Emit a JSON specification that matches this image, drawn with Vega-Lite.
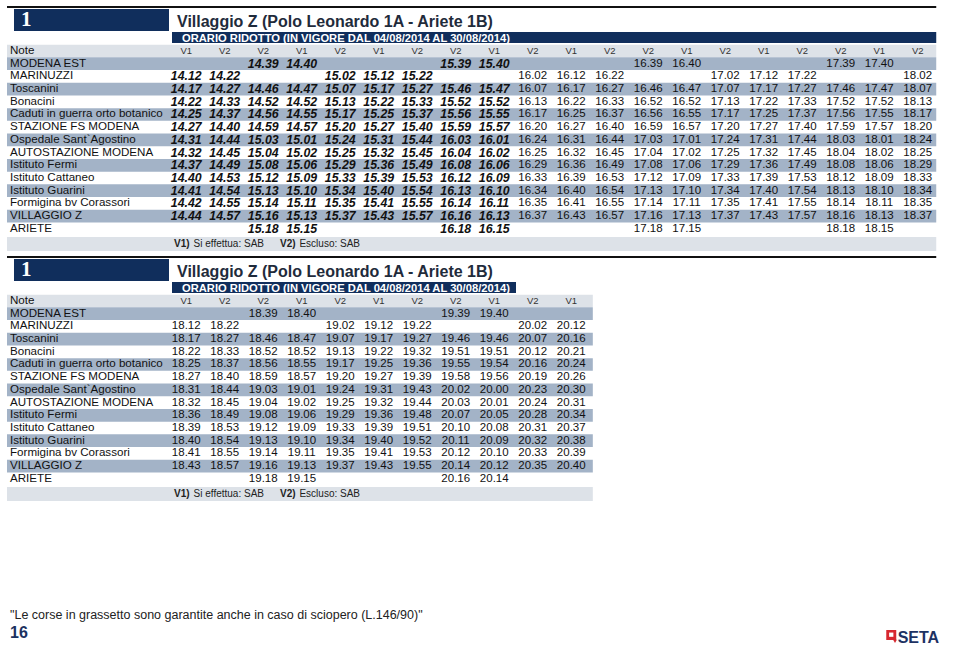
{
"$schema":"https://vega.github.io/schema/vega-lite/v6.json",
"padding":0,"spacing":0,"bounds":"flush","background":"white",
"config":{"view":{"stroke":null},"axis":{"disable":true},"text":{"font":"Liberation Sans"}},
"resolve":{"scale":{"x":"independent","y":"independent"}},
"datasets":{
"stops":[{"n":0,"s":"Note"},{"n":1,"s":"MODENA EST"},{"n":2,"s":"MARINUZZI"},{"n":3,"s":"Toscanini"},{"n":4,"s":"Bonacini"},{"n":5,"s":"Caduti in guerra orto botanico"},{"n":6,"s":"STAZIONE FS MODENA"},{"n":7,"s":"Ospedale Sant`Agostino"},{"n":8,"s":"AUTOSTAZIONE MODENA"},{"n":9,"s":"Istituto Fermi"},{"n":10,"s":"Istituto Cattaneo"},{"n":11,"s":"Istituto Guarini"},{"n":12,"s":"Formigina bv Corassori"},{"n":13,"s":"VILLAGGIO Z"},{"n":14,"s":"ARIETE"}],
"cells":[
{"t":"A","n":0,"c":1,"v":"V1"},{"t":"A","n":0,"c":2,"v":"V2"},{"t":"A","n":0,"c":3,"v":"V2"},{"t":"A","n":0,"c":4,"v":"V1"},{"t":"A","n":0,"c":5,"v":"V2"},{"t":"A","n":0,"c":6,"v":"V1"},{"t":"A","n":0,"c":7,"v":"V2"},{"t":"A","n":0,"c":8,"v":"V2"},{"t":"A","n":0,"c":9,"v":"V1"},{"t":"A","n":0,"c":10,"v":"V2"},{"t":"A","n":0,"c":11,"v":"V1"},{"t":"A","n":0,"c":12,"v":"V2"},{"t":"A","n":0,"c":13,"v":"V2"},{"t":"A","n":0,"c":14,"v":"V1"},{"t":"A","n":0,"c":15,"v":"V2"},{"t":"A","n":0,"c":16,"v":"V1"},{"t":"A","n":0,"c":17,"v":"V2"},{"t":"A","n":0,"c":18,"v":"V2"},{"t":"A","n":0,"c":19,"v":"V1"},{"t":"A","n":0,"c":20,"v":"V2"},
{"t":"A","n":1,"c":3,"v":"14.39"},{"t":"A","n":1,"c":4,"v":"14.40"},{"t":"A","n":1,"c":8,"v":"15.39"},{"t":"A","n":1,"c":9,"v":"15.40"},{"t":"A","n":1,"c":13,"v":"16.39"},{"t":"A","n":1,"c":14,"v":"16.40"},{"t":"A","n":1,"c":18,"v":"17.39"},{"t":"A","n":1,"c":19,"v":"17.40"},
{"t":"A","n":2,"c":1,"v":"14.12"},{"t":"A","n":2,"c":2,"v":"14.22"},{"t":"A","n":2,"c":5,"v":"15.02"},{"t":"A","n":2,"c":6,"v":"15.12"},{"t":"A","n":2,"c":7,"v":"15.22"},{"t":"A","n":2,"c":10,"v":"16.02"},{"t":"A","n":2,"c":11,"v":"16.12"},{"t":"A","n":2,"c":12,"v":"16.22"},{"t":"A","n":2,"c":15,"v":"17.02"},{"t":"A","n":2,"c":16,"v":"17.12"},{"t":"A","n":2,"c":17,"v":"17.22"},{"t":"A","n":2,"c":20,"v":"18.02"},
{"t":"A","n":3,"c":1,"v":"14.17"},{"t":"A","n":3,"c":2,"v":"14.27"},{"t":"A","n":3,"c":3,"v":"14.46"},{"t":"A","n":3,"c":4,"v":"14.47"},{"t":"A","n":3,"c":5,"v":"15.07"},{"t":"A","n":3,"c":6,"v":"15.17"},{"t":"A","n":3,"c":7,"v":"15.27"},{"t":"A","n":3,"c":8,"v":"15.46"},{"t":"A","n":3,"c":9,"v":"15.47"},{"t":"A","n":3,"c":10,"v":"16.07"},{"t":"A","n":3,"c":11,"v":"16.17"},{"t":"A","n":3,"c":12,"v":"16.27"},{"t":"A","n":3,"c":13,"v":"16.46"},{"t":"A","n":3,"c":14,"v":"16.47"},{"t":"A","n":3,"c":15,"v":"17.07"},{"t":"A","n":3,"c":16,"v":"17.17"},{"t":"A","n":3,"c":17,"v":"17.27"},{"t":"A","n":3,"c":18,"v":"17.46"},{"t":"A","n":3,"c":19,"v":"17.47"},{"t":"A","n":3,"c":20,"v":"18.07"},
{"t":"A","n":4,"c":1,"v":"14.22"},{"t":"A","n":4,"c":2,"v":"14.33"},{"t":"A","n":4,"c":3,"v":"14.52"},{"t":"A","n":4,"c":4,"v":"14.52"},{"t":"A","n":4,"c":5,"v":"15.13"},{"t":"A","n":4,"c":6,"v":"15.22"},{"t":"A","n":4,"c":7,"v":"15.33"},{"t":"A","n":4,"c":8,"v":"15.52"},{"t":"A","n":4,"c":9,"v":"15.52"},{"t":"A","n":4,"c":10,"v":"16.13"},{"t":"A","n":4,"c":11,"v":"16.22"},{"t":"A","n":4,"c":12,"v":"16.33"},{"t":"A","n":4,"c":13,"v":"16.52"},{"t":"A","n":4,"c":14,"v":"16.52"},{"t":"A","n":4,"c":15,"v":"17.13"},{"t":"A","n":4,"c":16,"v":"17.22"},{"t":"A","n":4,"c":17,"v":"17.33"},{"t":"A","n":4,"c":18,"v":"17.52"},{"t":"A","n":4,"c":19,"v":"17.52"},{"t":"A","n":4,"c":20,"v":"18.13"},
{"t":"A","n":5,"c":1,"v":"14.25"},{"t":"A","n":5,"c":2,"v":"14.37"},{"t":"A","n":5,"c":3,"v":"14.56"},{"t":"A","n":5,"c":4,"v":"14.55"},{"t":"A","n":5,"c":5,"v":"15.17"},{"t":"A","n":5,"c":6,"v":"15.25"},{"t":"A","n":5,"c":7,"v":"15.37"},{"t":"A","n":5,"c":8,"v":"15.56"},{"t":"A","n":5,"c":9,"v":"15.55"},{"t":"A","n":5,"c":10,"v":"16.17"},{"t":"A","n":5,"c":11,"v":"16.25"},{"t":"A","n":5,"c":12,"v":"16.37"},{"t":"A","n":5,"c":13,"v":"16.56"},{"t":"A","n":5,"c":14,"v":"16.55"},{"t":"A","n":5,"c":15,"v":"17.17"},{"t":"A","n":5,"c":16,"v":"17.25"},{"t":"A","n":5,"c":17,"v":"17.37"},{"t":"A","n":5,"c":18,"v":"17.56"},{"t":"A","n":5,"c":19,"v":"17.55"},{"t":"A","n":5,"c":20,"v":"18.17"},
{"t":"A","n":6,"c":1,"v":"14.27"},{"t":"A","n":6,"c":2,"v":"14.40"},{"t":"A","n":6,"c":3,"v":"14.59"},{"t":"A","n":6,"c":4,"v":"14.57"},{"t":"A","n":6,"c":5,"v":"15.20"},{"t":"A","n":6,"c":6,"v":"15.27"},{"t":"A","n":6,"c":7,"v":"15.40"},{"t":"A","n":6,"c":8,"v":"15.59"},{"t":"A","n":6,"c":9,"v":"15.57"},{"t":"A","n":6,"c":10,"v":"16.20"},{"t":"A","n":6,"c":11,"v":"16.27"},{"t":"A","n":6,"c":12,"v":"16.40"},{"t":"A","n":6,"c":13,"v":"16.59"},{"t":"A","n":6,"c":14,"v":"16.57"},{"t":"A","n":6,"c":15,"v":"17.20"},{"t":"A","n":6,"c":16,"v":"17.27"},{"t":"A","n":6,"c":17,"v":"17.40"},{"t":"A","n":6,"c":18,"v":"17.59"},{"t":"A","n":6,"c":19,"v":"17.57"},{"t":"A","n":6,"c":20,"v":"18.20"},
{"t":"A","n":7,"c":1,"v":"14.31"},{"t":"A","n":7,"c":2,"v":"14.44"},{"t":"A","n":7,"c":3,"v":"15.03"},{"t":"A","n":7,"c":4,"v":"15.01"},{"t":"A","n":7,"c":5,"v":"15.24"},{"t":"A","n":7,"c":6,"v":"15.31"},{"t":"A","n":7,"c":7,"v":"15.44"},{"t":"A","n":7,"c":8,"v":"16.03"},{"t":"A","n":7,"c":9,"v":"16.01"},{"t":"A","n":7,"c":10,"v":"16.24"},{"t":"A","n":7,"c":11,"v":"16.31"},{"t":"A","n":7,"c":12,"v":"16.44"},{"t":"A","n":7,"c":13,"v":"17.03"},{"t":"A","n":7,"c":14,"v":"17.01"},{"t":"A","n":7,"c":15,"v":"17.24"},{"t":"A","n":7,"c":16,"v":"17.31"},{"t":"A","n":7,"c":17,"v":"17.44"},{"t":"A","n":7,"c":18,"v":"18.03"},{"t":"A","n":7,"c":19,"v":"18.01"},{"t":"A","n":7,"c":20,"v":"18.24"},
{"t":"A","n":8,"c":1,"v":"14.32"},{"t":"A","n":8,"c":2,"v":"14.45"},{"t":"A","n":8,"c":3,"v":"15.04"},{"t":"A","n":8,"c":4,"v":"15.02"},{"t":"A","n":8,"c":5,"v":"15.25"},{"t":"A","n":8,"c":6,"v":"15.32"},{"t":"A","n":8,"c":7,"v":"15.45"},{"t":"A","n":8,"c":8,"v":"16.04"},{"t":"A","n":8,"c":9,"v":"16.02"},{"t":"A","n":8,"c":10,"v":"16.25"},{"t":"A","n":8,"c":11,"v":"16.32"},{"t":"A","n":8,"c":12,"v":"16.45"},{"t":"A","n":8,"c":13,"v":"17.04"},{"t":"A","n":8,"c":14,"v":"17.02"},{"t":"A","n":8,"c":15,"v":"17.25"},{"t":"A","n":8,"c":16,"v":"17.32"},{"t":"A","n":8,"c":17,"v":"17.45"},{"t":"A","n":8,"c":18,"v":"18.04"},{"t":"A","n":8,"c":19,"v":"18.02"},{"t":"A","n":8,"c":20,"v":"18.25"},
{"t":"A","n":9,"c":1,"v":"14.37"},{"t":"A","n":9,"c":2,"v":"14.49"},{"t":"A","n":9,"c":3,"v":"15.08"},{"t":"A","n":9,"c":4,"v":"15.06"},{"t":"A","n":9,"c":5,"v":"15.29"},{"t":"A","n":9,"c":6,"v":"15.36"},{"t":"A","n":9,"c":7,"v":"15.49"},{"t":"A","n":9,"c":8,"v":"16.08"},{"t":"A","n":9,"c":9,"v":"16.06"},{"t":"A","n":9,"c":10,"v":"16.29"},{"t":"A","n":9,"c":11,"v":"16.36"},{"t":"A","n":9,"c":12,"v":"16.49"},{"t":"A","n":9,"c":13,"v":"17.08"},{"t":"A","n":9,"c":14,"v":"17.06"},{"t":"A","n":9,"c":15,"v":"17.29"},{"t":"A","n":9,"c":16,"v":"17.36"},{"t":"A","n":9,"c":17,"v":"17.49"},{"t":"A","n":9,"c":18,"v":"18.08"},{"t":"A","n":9,"c":19,"v":"18.06"},{"t":"A","n":9,"c":20,"v":"18.29"},
{"t":"A","n":10,"c":1,"v":"14.40"},{"t":"A","n":10,"c":2,"v":"14.53"},{"t":"A","n":10,"c":3,"v":"15.12"},{"t":"A","n":10,"c":4,"v":"15.09"},{"t":"A","n":10,"c":5,"v":"15.33"},{"t":"A","n":10,"c":6,"v":"15.39"},{"t":"A","n":10,"c":7,"v":"15.53"},{"t":"A","n":10,"c":8,"v":"16.12"},{"t":"A","n":10,"c":9,"v":"16.09"},{"t":"A","n":10,"c":10,"v":"16.33"},{"t":"A","n":10,"c":11,"v":"16.39"},{"t":"A","n":10,"c":12,"v":"16.53"},{"t":"A","n":10,"c":13,"v":"17.12"},{"t":"A","n":10,"c":14,"v":"17.09"},{"t":"A","n":10,"c":15,"v":"17.33"},{"t":"A","n":10,"c":16,"v":"17.39"},{"t":"A","n":10,"c":17,"v":"17.53"},{"t":"A","n":10,"c":18,"v":"18.12"},{"t":"A","n":10,"c":19,"v":"18.09"},{"t":"A","n":10,"c":20,"v":"18.33"},
{"t":"A","n":11,"c":1,"v":"14.41"},{"t":"A","n":11,"c":2,"v":"14.54"},{"t":"A","n":11,"c":3,"v":"15.13"},{"t":"A","n":11,"c":4,"v":"15.10"},{"t":"A","n":11,"c":5,"v":"15.34"},{"t":"A","n":11,"c":6,"v":"15.40"},{"t":"A","n":11,"c":7,"v":"15.54"},{"t":"A","n":11,"c":8,"v":"16.13"},{"t":"A","n":11,"c":9,"v":"16.10"},{"t":"A","n":11,"c":10,"v":"16.34"},{"t":"A","n":11,"c":11,"v":"16.40"},{"t":"A","n":11,"c":12,"v":"16.54"},{"t":"A","n":11,"c":13,"v":"17.13"},{"t":"A","n":11,"c":14,"v":"17.10"},{"t":"A","n":11,"c":15,"v":"17.34"},{"t":"A","n":11,"c":16,"v":"17.40"},{"t":"A","n":11,"c":17,"v":"17.54"},{"t":"A","n":11,"c":18,"v":"18.13"},{"t":"A","n":11,"c":19,"v":"18.10"},{"t":"A","n":11,"c":20,"v":"18.34"},
{"t":"A","n":12,"c":1,"v":"14.42"},{"t":"A","n":12,"c":2,"v":"14.55"},{"t":"A","n":12,"c":3,"v":"15.14"},{"t":"A","n":12,"c":4,"v":"15.11"},{"t":"A","n":12,"c":5,"v":"15.35"},{"t":"A","n":12,"c":6,"v":"15.41"},{"t":"A","n":12,"c":7,"v":"15.55"},{"t":"A","n":12,"c":8,"v":"16.14"},{"t":"A","n":12,"c":9,"v":"16.11"},{"t":"A","n":12,"c":10,"v":"16.35"},{"t":"A","n":12,"c":11,"v":"16.41"},{"t":"A","n":12,"c":12,"v":"16.55"},{"t":"A","n":12,"c":13,"v":"17.14"},{"t":"A","n":12,"c":14,"v":"17.11"},{"t":"A","n":12,"c":15,"v":"17.35"},{"t":"A","n":12,"c":16,"v":"17.41"},{"t":"A","n":12,"c":17,"v":"17.55"},{"t":"A","n":12,"c":18,"v":"18.14"},{"t":"A","n":12,"c":19,"v":"18.11"},{"t":"A","n":12,"c":20,"v":"18.35"},
{"t":"A","n":13,"c":1,"v":"14.44"},{"t":"A","n":13,"c":2,"v":"14.57"},{"t":"A","n":13,"c":3,"v":"15.16"},{"t":"A","n":13,"c":4,"v":"15.13"},{"t":"A","n":13,"c":5,"v":"15.37"},{"t":"A","n":13,"c":6,"v":"15.43"},{"t":"A","n":13,"c":7,"v":"15.57"},{"t":"A","n":13,"c":8,"v":"16.16"},{"t":"A","n":13,"c":9,"v":"16.13"},{"t":"A","n":13,"c":10,"v":"16.37"},{"t":"A","n":13,"c":11,"v":"16.43"},{"t":"A","n":13,"c":12,"v":"16.57"},{"t":"A","n":13,"c":13,"v":"17.16"},{"t":"A","n":13,"c":14,"v":"17.13"},{"t":"A","n":13,"c":15,"v":"17.37"},{"t":"A","n":13,"c":16,"v":"17.43"},{"t":"A","n":13,"c":17,"v":"17.57"},{"t":"A","n":13,"c":18,"v":"18.16"},{"t":"A","n":13,"c":19,"v":"18.13"},{"t":"A","n":13,"c":20,"v":"18.37"},
{"t":"A","n":14,"c":3,"v":"15.18"},{"t":"A","n":14,"c":4,"v":"15.15"},{"t":"A","n":14,"c":8,"v":"16.18"},{"t":"A","n":14,"c":9,"v":"16.15"},{"t":"A","n":14,"c":13,"v":"17.18"},{"t":"A","n":14,"c":14,"v":"17.15"},{"t":"A","n":14,"c":18,"v":"18.18"},{"t":"A","n":14,"c":19,"v":"18.15"},
{"t":"B","n":0,"c":1,"v":"V1"},{"t":"B","n":0,"c":2,"v":"V2"},{"t":"B","n":0,"c":3,"v":"V2"},{"t":"B","n":0,"c":4,"v":"V1"},{"t":"B","n":0,"c":5,"v":"V2"},{"t":"B","n":0,"c":6,"v":"V1"},{"t":"B","n":0,"c":7,"v":"V2"},{"t":"B","n":0,"c":8,"v":"V2"},{"t":"B","n":0,"c":9,"v":"V1"},{"t":"B","n":0,"c":10,"v":"V2"},{"t":"B","n":0,"c":11,"v":"V1"},
{"t":"B","n":1,"c":3,"v":"18.39"},{"t":"B","n":1,"c":4,"v":"18.40"},{"t":"B","n":1,"c":8,"v":"19.39"},{"t":"B","n":1,"c":9,"v":"19.40"},
{"t":"B","n":2,"c":1,"v":"18.12"},{"t":"B","n":2,"c":2,"v":"18.22"},{"t":"B","n":2,"c":5,"v":"19.02"},{"t":"B","n":2,"c":6,"v":"19.12"},{"t":"B","n":2,"c":7,"v":"19.22"},{"t":"B","n":2,"c":10,"v":"20.02"},{"t":"B","n":2,"c":11,"v":"20.12"},
{"t":"B","n":3,"c":1,"v":"18.17"},{"t":"B","n":3,"c":2,"v":"18.27"},{"t":"B","n":3,"c":3,"v":"18.46"},{"t":"B","n":3,"c":4,"v":"18.47"},{"t":"B","n":3,"c":5,"v":"19.07"},{"t":"B","n":3,"c":6,"v":"19.17"},{"t":"B","n":3,"c":7,"v":"19.27"},{"t":"B","n":3,"c":8,"v":"19.46"},{"t":"B","n":3,"c":9,"v":"19.46"},{"t":"B","n":3,"c":10,"v":"20.07"},{"t":"B","n":3,"c":11,"v":"20.16"},
{"t":"B","n":4,"c":1,"v":"18.22"},{"t":"B","n":4,"c":2,"v":"18.33"},{"t":"B","n":4,"c":3,"v":"18.52"},{"t":"B","n":4,"c":4,"v":"18.52"},{"t":"B","n":4,"c":5,"v":"19.13"},{"t":"B","n":4,"c":6,"v":"19.22"},{"t":"B","n":4,"c":7,"v":"19.32"},{"t":"B","n":4,"c":8,"v":"19.51"},{"t":"B","n":4,"c":9,"v":"19.51"},{"t":"B","n":4,"c":10,"v":"20.12"},{"t":"B","n":4,"c":11,"v":"20.21"},
{"t":"B","n":5,"c":1,"v":"18.25"},{"t":"B","n":5,"c":2,"v":"18.37"},{"t":"B","n":5,"c":3,"v":"18.56"},{"t":"B","n":5,"c":4,"v":"18.55"},{"t":"B","n":5,"c":5,"v":"19.17"},{"t":"B","n":5,"c":6,"v":"19.25"},{"t":"B","n":5,"c":7,"v":"19.36"},{"t":"B","n":5,"c":8,"v":"19.55"},{"t":"B","n":5,"c":9,"v":"19.54"},{"t":"B","n":5,"c":10,"v":"20.16"},{"t":"B","n":5,"c":11,"v":"20.24"},
{"t":"B","n":6,"c":1,"v":"18.27"},{"t":"B","n":6,"c":2,"v":"18.40"},{"t":"B","n":6,"c":3,"v":"18.59"},{"t":"B","n":6,"c":4,"v":"18.57"},{"t":"B","n":6,"c":5,"v":"19.20"},{"t":"B","n":6,"c":6,"v":"19.27"},{"t":"B","n":6,"c":7,"v":"19.39"},{"t":"B","n":6,"c":8,"v":"19.58"},{"t":"B","n":6,"c":9,"v":"19.56"},{"t":"B","n":6,"c":10,"v":"20.19"},{"t":"B","n":6,"c":11,"v":"20.26"},
{"t":"B","n":7,"c":1,"v":"18.31"},{"t":"B","n":7,"c":2,"v":"18.44"},{"t":"B","n":7,"c":3,"v":"19.03"},{"t":"B","n":7,"c":4,"v":"19.01"},{"t":"B","n":7,"c":5,"v":"19.24"},{"t":"B","n":7,"c":6,"v":"19.31"},{"t":"B","n":7,"c":7,"v":"19.43"},{"t":"B","n":7,"c":8,"v":"20.02"},{"t":"B","n":7,"c":9,"v":"20.00"},{"t":"B","n":7,"c":10,"v":"20.23"},{"t":"B","n":7,"c":11,"v":"20.30"},
{"t":"B","n":8,"c":1,"v":"18.32"},{"t":"B","n":8,"c":2,"v":"18.45"},{"t":"B","n":8,"c":3,"v":"19.04"},{"t":"B","n":8,"c":4,"v":"19.02"},{"t":"B","n":8,"c":5,"v":"19.25"},{"t":"B","n":8,"c":6,"v":"19.32"},{"t":"B","n":8,"c":7,"v":"19.44"},{"t":"B","n":8,"c":8,"v":"20.03"},{"t":"B","n":8,"c":9,"v":"20.01"},{"t":"B","n":8,"c":10,"v":"20.24"},{"t":"B","n":8,"c":11,"v":"20.31"},
{"t":"B","n":9,"c":1,"v":"18.36"},{"t":"B","n":9,"c":2,"v":"18.49"},{"t":"B","n":9,"c":3,"v":"19.08"},{"t":"B","n":9,"c":4,"v":"19.06"},{"t":"B","n":9,"c":5,"v":"19.29"},{"t":"B","n":9,"c":6,"v":"19.36"},{"t":"B","n":9,"c":7,"v":"19.48"},{"t":"B","n":9,"c":8,"v":"20.07"},{"t":"B","n":9,"c":9,"v":"20.05"},{"t":"B","n":9,"c":10,"v":"20.28"},{"t":"B","n":9,"c":11,"v":"20.34"},
{"t":"B","n":10,"c":1,"v":"18.39"},{"t":"B","n":10,"c":2,"v":"18.53"},{"t":"B","n":10,"c":3,"v":"19.12"},{"t":"B","n":10,"c":4,"v":"19.09"},{"t":"B","n":10,"c":5,"v":"19.33"},{"t":"B","n":10,"c":6,"v":"19.39"},{"t":"B","n":10,"c":7,"v":"19.51"},{"t":"B","n":10,"c":8,"v":"20.10"},{"t":"B","n":10,"c":9,"v":"20.08"},{"t":"B","n":10,"c":10,"v":"20.31"},{"t":"B","n":10,"c":11,"v":"20.37"},
{"t":"B","n":11,"c":1,"v":"18.40"},{"t":"B","n":11,"c":2,"v":"18.54"},{"t":"B","n":11,"c":3,"v":"19.13"},{"t":"B","n":11,"c":4,"v":"19.10"},{"t":"B","n":11,"c":5,"v":"19.34"},{"t":"B","n":11,"c":6,"v":"19.40"},{"t":"B","n":11,"c":7,"v":"19.52"},{"t":"B","n":11,"c":8,"v":"20.11"},{"t":"B","n":11,"c":9,"v":"20.09"},{"t":"B","n":11,"c":10,"v":"20.32"},{"t":"B","n":11,"c":11,"v":"20.38"},
{"t":"B","n":12,"c":1,"v":"18.41"},{"t":"B","n":12,"c":2,"v":"18.55"},{"t":"B","n":12,"c":3,"v":"19.14"},{"t":"B","n":12,"c":4,"v":"19.11"},{"t":"B","n":12,"c":5,"v":"19.35"},{"t":"B","n":12,"c":6,"v":"19.41"},{"t":"B","n":12,"c":7,"v":"19.53"},{"t":"B","n":12,"c":8,"v":"20.12"},{"t":"B","n":12,"c":9,"v":"20.10"},{"t":"B","n":12,"c":10,"v":"20.33"},{"t":"B","n":12,"c":11,"v":"20.39"},
{"t":"B","n":13,"c":1,"v":"18.43"},{"t":"B","n":13,"c":2,"v":"18.57"},{"t":"B","n":13,"c":3,"v":"19.16"},{"t":"B","n":13,"c":4,"v":"19.13"},{"t":"B","n":13,"c":5,"v":"19.37"},{"t":"B","n":13,"c":6,"v":"19.43"},{"t":"B","n":13,"c":7,"v":"19.55"},{"t":"B","n":13,"c":8,"v":"20.14"},{"t":"B","n":13,"c":9,"v":"20.12"},{"t":"B","n":13,"c":10,"v":"20.35"},{"t":"B","n":13,"c":11,"v":"20.40"},
{"t":"B","n":14,"c":3,"v":"19.18"},{"t":"B","n":14,"c":4,"v":"19.15"},{"t":"B","n":14,"c":8,"v":"20.16"},{"t":"B","n":14,"c":9,"v":"20.14"}
]},
"vconcat":[
{"width":960,"height":250,
"layer":[
{"data":{"values":[{}]},"mark":{"type":"rule","color":"#111111","strokeWidth":2},"encoding":{"x":{"datum":-3.6558,"scale":{"domain":[-3.6558,21.2792],"nice":false,"zero":false}},"x2":{"datum":20.48},"y":{"datum":-3.47,"scale":{"domain":[-4.0157,15.6693],"reverse":true,"nice":false,"zero":false}}}},
{"data":{"values":[{}]},"mark":{"type":"rule","color":"#dde2e8","strokeWidth":12.7},"encoding":{"x":{"datum":-3.6558},"x2":{"datum":20.48},"y":{"datum":0}}},
{"data":{"name":"stops"},"transform":[{"filter":"datum.n % 2 == 1"}],"mark":{"type":"rule","color":"#a3b3c7","strokeWidth":12.7},"encoding":{"x":{"datum":-3.6558},"x2":{"datum":20.48},"y":{"field":"n","type":"quantitative"}}},
{"data":{"values":[{}]},"mark":{"type":"rule","color":"#dde2e8","strokeWidth":14},"encoding":{"x":{"datum":-3.6558},"x2":{"datum":20.48},"y":{"datum":15.197}}},
{"data":{"values":[{}]},"mark":{"type":"rule","color":"#102e5c","strokeWidth":22},"encoding":{"x":{"datum":-3.474},"x2":{"datum":0.552},"y":{"datum":-2.441}}},
{"data":{"values":[{}]},"mark":{"type":"rule","color":"#102e5c","strokeWidth":11},"encoding":{"x":{"datum":0.63},"x2":{"datum":20.48},"y":{"datum":-1.063}}},
{"data":{"values":[{}]},"mark":{"type":"text","text":"1","font":"Liberation Serif","fontWeight":"bold","fontSize":21,"color":"white","align":"left","baseline":"alphabetic"},"encoding":{"x":{"datum":-3.292},"y":{"datum":-1.969}}},
{"data":{"values":[{}]},"mark":{"type":"text","text":"Villaggio Z (Polo Leonardo 1A - Ariete 1B)","fontWeight":"bold","fontSize":16,"color":"#1f2b3b","align":"left","baseline":"alphabetic"},"encoding":{"x":{"datum":0.7597},"y":{"datum":-1.929}}},
{"data":{"values":[{}]},"mark":{"type":"text","text":"ORARIO RIDOTTO (IN VIGORE DAL 04/08/2014 AL 30/08/2014)","fontWeight":"bold","fontSize":11.2,"color":"white","align":"left","baseline":"alphabetic"},"encoding":{"x":{"datum":0.8896},"y":{"datum":-0.732}}},
{"data":{"name":"stops"},"mark":{"type":"text","fontSize":11.6,"color":"#111111","align":"left","baseline":"middle"},"encoding":{"x":{"datum":-3.578},"y":{"field":"n","type":"quantitative"},"text":{"field":"s"}}},
{"data":{"name":"cells"},"transform":[{"filter":"datum.t == 'A' && datum.n == 0"}],"mark":{"type":"text","fontSize":9.5,"color":"#333333","align":"center","baseline":"middle"},"encoding":{"x":{"field":"c","type":"quantitative"},"y":{"field":"n","type":"quantitative"},"text":{"field":"v"}}},
{"data":{"name":"cells"},"transform":[{"filter":"datum.t == 'A' && datum.n > 0 && datum.c <= 9"}],"mark":{"type":"text","fontSize":12.3,"fontWeight":"bold","fontStyle":"italic","color":"#111111","align":"center","baseline":"middle"},"encoding":{"x":{"field":"c","type":"quantitative"},"y":{"field":"n","type":"quantitative"},"text":{"field":"v"}}},
{"data":{"name":"cells"},"transform":[{"filter":"datum.t == 'A' && datum.n > 0 && datum.c > 9"}],"mark":{"type":"text","fontSize":11.5,"color":"#111111","align":"center","baseline":"middle"},"encoding":{"x":{"field":"c","type":"quantitative"},"y":{"field":"n","type":"quantitative"},"text":{"field":"v"}}},
{"data":{"values":[{}]},"mark":{"type":"text","text":"V1)","fontWeight":"bold","fontSize":10,"color":"#222222","align":"left","baseline":"middle"},"encoding":{"x":{"datum":0.6818},"y":{"datum":15.197}}},
{"data":{"values":[{}]},"mark":{"type":"text","text":"Si effettua: SAB","fontSize":10,"color":"#222222","align":"left","baseline":"middle"},"encoding":{"x":{"datum":1.19},"y":{"datum":15.197}}},
{"data":{"values":[{}]},"mark":{"type":"text","text":"V2)","fontWeight":"bold","fontSize":10,"color":"#222222","align":"left","baseline":"middle"},"encoding":{"x":{"datum":3.435},"y":{"datum":15.197}}},
{"data":{"values":[{}]},"mark":{"type":"text","text":"Escluso: SAB","fontSize":10,"color":"#222222","align":"left","baseline":"middle"},"encoding":{"x":{"datum":3.94},"y":{"datum":15.197}}}
]},
{"width":960,"height":250,
"layer":[
{"data":{"values":[{}]},"mark":{"type":"rule","color":"#111111","strokeWidth":2},"encoding":{"x":{"datum":-3.6558,"scale":{"domain":[-3.6558,21.2792],"nice":false,"zero":false}},"x2":{"datum":20.48},"y":{"datum":-3.47,"scale":{"domain":[-4.0157,15.6693],"reverse":true,"nice":false,"zero":false}}}},
{"data":{"values":[{}]},"mark":{"type":"rule","color":"#dde2e8","strokeWidth":12.7},"encoding":{"x":{"datum":-3.6558},"x2":{"datum":11.56},"y":{"datum":0}}},
{"data":{"name":"stops"},"transform":[{"filter":"datum.n % 2 == 1"}],"mark":{"type":"rule","color":"#a3b3c7","strokeWidth":12.7},"encoding":{"x":{"datum":-3.6558},"x2":{"datum":11.56},"y":{"field":"n","type":"quantitative"}}},
{"data":{"values":[{}]},"mark":{"type":"rule","color":"#dde2e8","strokeWidth":14},"encoding":{"x":{"datum":-3.6558},"x2":{"datum":11.56},"y":{"datum":15.197}}},
{"data":{"values":[{}]},"mark":{"type":"rule","color":"#102e5c","strokeWidth":22},"encoding":{"x":{"datum":-3.474},"x2":{"datum":0.552},"y":{"datum":-2.441}}},
{"data":{"values":[{}]},"mark":{"type":"rule","color":"#102e5c","strokeWidth":11},"encoding":{"x":{"datum":0.63},"x2":{"datum":9.565},"y":{"datum":-1.063}}},
{"data":{"values":[{}]},"mark":{"type":"text","text":"1","font":"Liberation Serif","fontWeight":"bold","fontSize":21,"color":"white","align":"left","baseline":"alphabetic"},"encoding":{"x":{"datum":-3.292},"y":{"datum":-1.969}}},
{"data":{"values":[{}]},"mark":{"type":"text","text":"Villaggio Z (Polo Leonardo 1A - Ariete 1B)","fontWeight":"bold","fontSize":16,"color":"#1f2b3b","align":"left","baseline":"alphabetic"},"encoding":{"x":{"datum":0.7597},"y":{"datum":-1.929}}},
{"data":{"values":[{}]},"mark":{"type":"text","text":"ORARIO RIDOTTO (IN VIGORE DAL 04/08/2014 AL 30/08/2014)","fontWeight":"bold","fontSize":11.2,"color":"white","align":"left","baseline":"alphabetic"},"encoding":{"x":{"datum":0.8896},"y":{"datum":-0.732}}},
{"data":{"name":"stops"},"mark":{"type":"text","fontSize":11.6,"color":"#111111","align":"left","baseline":"middle"},"encoding":{"x":{"datum":-3.578},"y":{"field":"n","type":"quantitative"},"text":{"field":"s"}}},
{"data":{"name":"cells"},"transform":[{"filter":"datum.t == 'B' && datum.n == 0"}],"mark":{"type":"text","fontSize":9.5,"color":"#333333","align":"center","baseline":"middle"},"encoding":{"x":{"field":"c","type":"quantitative"},"y":{"field":"n","type":"quantitative"},"text":{"field":"v"}}},
{"data":{"name":"cells"},"transform":[{"filter":"datum.t == 'B' && datum.n > 0"}],"mark":{"type":"text","fontSize":11.5,"color":"#111111","align":"center","baseline":"middle"},"encoding":{"x":{"field":"c","type":"quantitative"},"y":{"field":"n","type":"quantitative"},"text":{"field":"v"}}},
{"data":{"values":[{}]},"mark":{"type":"text","text":"V1)","fontWeight":"bold","fontSize":10,"color":"#222222","align":"left","baseline":"middle"},"encoding":{"x":{"datum":0.6818},"y":{"datum":15.197}}},
{"data":{"values":[{}]},"mark":{"type":"text","text":"Si effettua: SAB","fontSize":10,"color":"#222222","align":"left","baseline":"middle"},"encoding":{"x":{"datum":1.19},"y":{"datum":15.197}}},
{"data":{"values":[{}]},"mark":{"type":"text","text":"V2)","fontWeight":"bold","fontSize":10,"color":"#222222","align":"left","baseline":"middle"},"encoding":{"x":{"datum":3.435},"y":{"datum":15.197}}},
{"data":{"values":[{}]},"mark":{"type":"text","text":"Escluso: SAB","fontSize":10,"color":"#222222","align":"left","baseline":"middle"},"encoding":{"x":{"datum":3.94},"y":{"datum":15.197}}}
]},
{"width":960,"height":152,
"layer":[
{"data":{"values":[{}]},"mark":{"type":"text","text":"\"Le corse in grassetto sono garantite anche in caso di sciopero (L.146/90)\"","fontSize":12.5,"color":"#222222","align":"left","baseline":"alphabetic"},"encoding":{"x":{"datum":-3.578,"scale":{"domain":[-3.6558,21.2792],"nice":false,"zero":false}},"y":{"datum":9.394,"scale":{"domain":[0,11.9685],"reverse":true,"nice":false,"zero":false}}}},
{"data":{"values":[{}]},"mark":{"type":"text","text":"16","fontWeight":"bold","fontSize":16,"color":"#1b3160","align":"left","baseline":"alphabetic"},"encoding":{"x":{"datum":-3.578},"y":{"datum":10.89}}},
{"data":{"values":[{}]},"mark":{"type":"point","shape":"square","filled":true,"size":100,"color":"#d7282f","opacity":1},"encoding":{"x":{"datum":19.3117},"y":{"datum":10.63}}},
{"data":{"values":[{}]},"mark":{"type":"point","shape":"triangle-down","filled":true,"size":14,"color":"#d7282f","opacity":1},"encoding":{"x":{"datum":19.409},"y":{"datum":11.14}}},
{"data":{"values":[{}]},"mark":{"type":"point","shape":"square","filled":true,"size":18,"color":"white","opacity":1},"encoding":{"x":{"datum":19.3117},"y":{"datum":10.606}}},
{"data":{"values":[{}]},"mark":{"type":"text","text":"SETA","fontWeight":"bold","fontSize":16,"color":"#1d3263","align":"left","baseline":"alphabetic"},"encoding":{"x":{"datum":19.478},"y":{"datum":11.28}}}
]}
]
}
